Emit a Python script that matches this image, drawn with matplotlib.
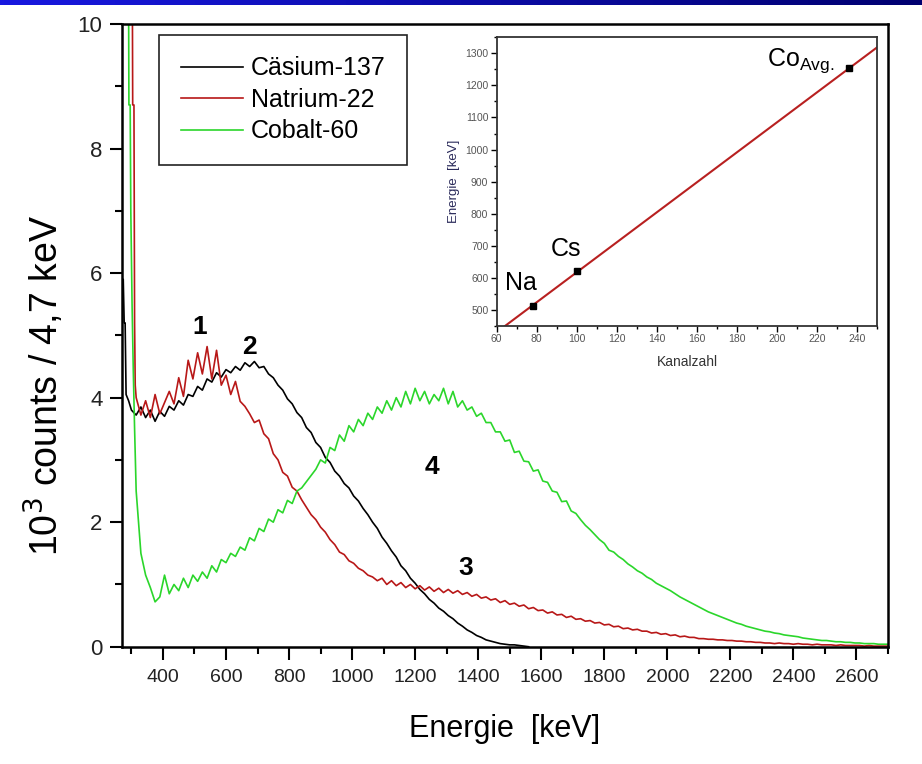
import numpy as np
import matplotlib.pyplot as plt
from matplotlib.colors import LinearSegmentedColormap
from matplotlib.ticker import MultipleLocator

plt.rcParams['font.family'] = ['Liberation Sans', 'DejaVu Sans']

# ---- spectra (10^3 counts per channel) ----
BIN = 15          # keV per plotted channel
GRID_START = 315  # first regular channel (keV)

# Cäsium-137
cs_head_e = [270, 274, 277, 280, 283, 291, 300]
cs_head_v = [5.9, 5.9, 5.2, 5.2, 4.05, 3.95, 3.8]
cs_counts = [3.72, 3.85, 3.68, 3.8, 3.62, 3.78, 3.7, 3.86, 3.8, 3.95, 3.88, 4.05,
             4.02, 4.18, 4.12, 4.3, 4.25, 4.4, 4.33, 4.45, 4.4, 4.5, 4.44, 4.56,
             4.5, 4.58, 4.48, 4.5, 4.38, 4.32, 4.2, 4.12, 3.98, 3.9, 3.76, 3.68,
             3.52, 3.44, 3.28, 3.2, 3.04, 2.96, 2.82, 2.74, 2.62, 2.55, 2.42, 2.34,
             2.22, 2.12, 2.0, 1.9, 1.76, 1.66, 1.54, 1.44, 1.3, 1.22, 1.1, 1.02,
             0.92, 0.85, 0.76, 0.7, 0.62, 0.57, 0.5, 0.45, 0.38, 0.33, 0.27, 0.23,
             0.18, 0.15, 0.11, 0.09, 0.07, 0.05, 0.04, 0.03, 0.03, 0.02, 0.01, 0.0]

# Natrium-22
na_head_e = [270, 285, 302, 304, 308, 310, 312]
na_head_v = [12, 12, 12, 8.7, 8.7, 5.2, 4.2]
na_counts = [4.0, 3.72, 3.95, 3.68, 4.05, 3.74, 3.92, 4.1, 3.9, 4.32, 4.02, 4.6,
             4.3, 4.72, 4.38, 4.82, 4.3, 4.76, 4.2, 4.36, 4.05, 4.26, 3.94, 3.86,
             3.74, 3.6, 3.64, 3.42, 3.34, 3.1, 3.0, 2.8, 2.74, 2.56, 2.5, 2.36,
             2.24, 2.12, 2.04, 1.92, 1.84, 1.72, 1.64, 1.52, 1.48, 1.38, 1.34, 1.26,
             1.22, 1.15, 1.12, 1.06, 1.1, 1.0, 1.06, 0.98, 1.03, 0.95, 1.0, 0.93,
             0.98, 0.91, 0.96, 0.89, 0.94, 0.87, 0.92, 0.86, 0.9, 0.84, 0.87, 0.81,
             0.84, 0.78, 0.8, 0.75, 0.77, 0.71, 0.74, 0.68, 0.7, 0.65, 0.67, 0.61,
             0.63, 0.58, 0.59, 0.54, 0.56, 0.51, 0.52, 0.47, 0.49, 0.44, 0.45, 0.41,
             0.42, 0.38, 0.39, 0.35, 0.36, 0.32, 0.33, 0.29, 0.3, 0.27, 0.28, 0.25,
             0.25, 0.22, 0.23, 0.2, 0.21, 0.18, 0.19, 0.16, 0.17, 0.15, 0.15, 0.13,
             0.13, 0.12, 0.12, 0.11, 0.11, 0.1, 0.1, 0.09, 0.09, 0.08, 0.08, 0.07,
             0.07, 0.06, 0.06, 0.05, 0.06, 0.05, 0.05, 0.04, 0.05, 0.04, 0.04, 0.03,
             0.04, 0.03, 0.03, 0.03, 0.02, 0.03, 0.02, 0.02, 0.02, 0.02, 0.01, 0.02,
             0.01, 0.01, 0.01, 0.01]

# Cobalt-60
co_head_e = [270, 290, 292, 296, 298, 302, 306, 310]
co_head_v = [12, 12, 8.7, 8.7, 7.0, 5.5, 4.4, 3.5]
co_counts = [2.5, 1.5, 1.15, 0.95, 0.72, 0.8, 1.15, 0.85, 1.0, 0.9, 1.1, 0.95,
             1.15, 1.05, 1.2, 1.1, 1.3, 1.2, 1.4, 1.35, 1.5, 1.45, 1.6, 1.55,
             1.75, 1.7, 1.9, 1.85, 2.05, 2.0, 2.2, 2.15, 2.35, 2.3, 2.5, 2.55,
             2.65, 2.75, 2.85, 3.0, 2.95, 3.2, 3.15, 3.4, 3.3, 3.55, 3.45, 3.65,
             3.55, 3.75, 3.65, 3.85, 3.75, 3.95, 3.8, 4.0, 3.85, 4.1, 3.9, 4.15,
             3.95, 4.1, 3.9, 4.05, 3.95, 4.15, 3.9, 4.1, 3.85, 3.95, 3.8, 3.85,
             3.7, 3.75, 3.6, 3.6, 3.45, 3.45, 3.3, 3.32, 3.12, 3.14, 2.98, 2.97,
             2.82, 2.84, 2.66, 2.64, 2.5, 2.48, 2.33, 2.34, 2.18, 2.14, 2.04, 1.95,
             1.88, 1.8, 1.72, 1.66, 1.55, 1.52, 1.45, 1.4, 1.33, 1.28, 1.22, 1.18,
             1.12, 1.08, 1.02, 0.98, 0.94, 0.9, 0.85, 0.8, 0.76, 0.72, 0.68, 0.64,
             0.6, 0.56, 0.53, 0.5, 0.47, 0.44, 0.41, 0.38, 0.36, 0.33, 0.31, 0.29,
             0.27, 0.25, 0.24, 0.22, 0.21, 0.19, 0.18, 0.17, 0.16, 0.14, 0.13, 0.12,
             0.11, 0.1, 0.1, 0.09, 0.08, 0.08, 0.07, 0.07, 0.06, 0.06, 0.05, 0.05,
             0.05, 0.04, 0.04, 0.04, 0.03]

# ---- inset: calibration ----
cal_channel = [78, 100, 236]
cal_energy = [511, 622, 1253]


def spectrum(head_e, head_v, counts):
    e = np.concatenate([head_e, GRID_START + BIN * np.arange(len(counts))])
    v = np.concatenate([head_v, counts])
    return e, v


CS_COL = "#000000"
NA_COL = "#b81818"
CO_COL = "#2bd62b"

fig = plt.figure(figsize=(9.22, 7.64), dpi=100)

# blue bar at the top of the slide
bar = fig.add_axes([0, 1 - 5 / 764, 1, 5 / 764])
cmap = LinearSegmentedColormap.from_list("bar", ["#1818e0", "#000070"])
bar.imshow(np.linspace(0, 1, 256)[None, :], aspect="auto", cmap=cmap)
bar.axis("off")

ax = fig.add_axes([0.1323, 0.1535, 0.8308, 0.8151])
for (he, hv, c), col, lab in [((cs_head_e, cs_head_v, cs_counts), CS_COL, "Cäsium-137"),
                              ((na_head_e, na_head_v, na_counts), NA_COL, "Natrium-22"),
                              ((co_head_e, co_head_v, co_counts), CO_COL, "Cobalt-60")]:
    e, v = spectrum(he, hv, c)
    ax.plot(e, v, color=col, lw=1.2, label=lab)

ax.set_xlim(270, 2700)
ax.set_ylim(0, 10)
ax.xaxis.set_major_locator(MultipleLocator(200))
ax.xaxis.set_minor_locator(MultipleLocator(100))
ax.yaxis.set_major_locator(MultipleLocator(2))
ax.yaxis.set_minor_locator(MultipleLocator(1))
for s in ax.spines.values():
    s.set_linewidth(1.8)
ax.tick_params(which="major", length=9, width=1.5, direction="out",
               top=False, right=False)
ax.tick_params(which="minor", length=5, width=1.5, direction="out",
               top=False, right=False)
ax.tick_params(axis="x", labelsize=14, pad=7, labelcolor="#222222")
ax.tick_params(axis="y", labelsize=16, pad=5, labelcolor="#222222")

ax.set_xlabel("Energie  [keV]", fontsize=22, labelpad=20)
ax.set_ylabel("10$^3$ counts / 4,7 keV", fontsize=27)
ax.yaxis.set_label_coords(-0.072, 0.42)

for x, y, t in [(517, 5.13, "1"), (675, 4.81, "2"), (1360, 1.26, "3"), (1252, 2.89, "4")]:
    ax.text(x, y, t, fontsize=19, fontweight="bold", ha="center", va="center")

leg = ax.legend(loc="upper left", bbox_to_anchor=(0.0487, 0.9823), borderaxespad=0,
                fontsize=18, frameon=True, fancybox=False, framealpha=1,
                edgecolor="#222222", handlelength=2.5, handletextpad=0.3,
                labelspacing=0.3, borderpad=0.85)
leg.get_frame().set_linewidth(1.2)

# ---- inset ----
ins = fig.add_axes([0.5387, 0.5733, 0.4128, 0.3779])
k, d = np.polyfit(cal_channel, cal_energy, 1)
xx = np.array([60, 250])
ins.plot(xx, k * xx + d, color="#b82020", lw=1.5)
ins.plot(cal_channel, cal_energy, "s", color="black", ms=5)
ins.set_xlim(60, 250)
ins.set_ylim(450, 1350)
ins.xaxis.set_major_locator(MultipleLocator(20))
ins.xaxis.set_minor_locator(MultipleLocator(10))
ins.yaxis.set_major_locator(MultipleLocator(100))
ins.yaxis.set_minor_locator(MultipleLocator(50))
ins.yaxis.set_major_formatter(lambda v, p: f"{v:.0f}" if v >= 500 else "")
for s in ins.spines.values():
    s.set_linewidth(1.3)
    s.set_color("#333333")
ins.tick_params(which="major", length=4, width=1, direction="out", labelsize=7.5,
                labelcolor="#555555", pad=2)
ins.tick_params(which="minor", length=2, width=1, direction="out")
ins.set_xlabel("Kanalzahl", fontsize=10, color="#333333", labelpad=8)
ins.set_ylabel("Energie  [keV]", fontsize=9.5, color="#2a2a5a", labelpad=4)

ins.text(72, 584, "Na", fontsize=18, ha="center", va="center")
ins.text(94.6, 689, "Cs", fontsize=18, ha="center", va="center")
ins.text(194.8, 1262, r"Co$_{\mathregular{Avg.}}$", fontsize=18, ha="left",
         va="baseline")

fig.savefig("out.png", dpi=100)
